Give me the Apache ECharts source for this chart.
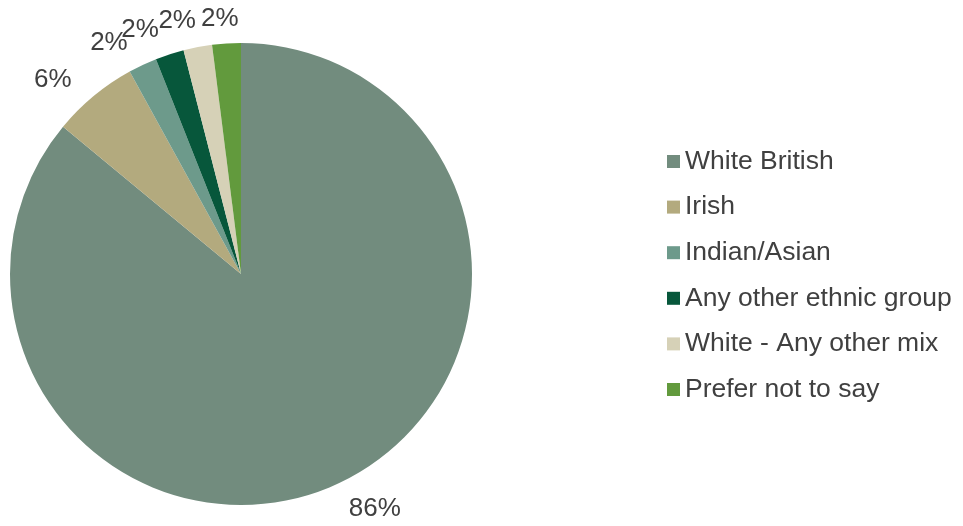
<!DOCTYPE html>
<html>
<head>
<meta charset="utf-8">
<script src="https://cdn.jsdelivr.net/npm/echarts@6/dist/echarts.min.js"></script>
<style>
  html, body { margin: 0; padding: 0; background: #fff; }
  #chart { width: 963px; height: 526px; }
</style>
</head>
<body>
<div id="chart"></div>
<script>
var categories = ['White British', 'Irish', 'Indian/Asian', 'Any other ethnic group', 'White - Any other mix', 'Prefer not to say'];
var values = [86, 6, 2, 2, 2, 2];
var colors = ['#728c7e', '#b3aa7e', '#6d9a8b', '#07573b', '#d6d1b7', '#629a3d'];

var cx = 241, cy = 274, R = 231;
var total = values.reduce(function(a, b) { return a + b; }, 0);

// mid angle of each slice, clockwise from 12 o'clock, nudged a bit like the office chart's labels
var mids = [];
var acc = 0;
for (var i = 0; i < values.length; i++) {
  var deg = 90 - 360 * (acc + values[i] / 2) / total;
  var c0 = Math.abs(Math.cos(deg * Math.PI / 180));
  mids.push((deg + 4.5 * Math.min(1, c0 * 4)) * Math.PI / 180);
  acc += values[i];
}

var font = 'Liberation Sans, Arial, sans-serif';
var myChart = echarts.init(document.getElementById('chart'));
var option = {
  animation: false,
  textStyle: { fontFamily: font },
  legend: {
    orient: 'vertical',
    left: 662,
    top: 143,
    itemWidth: 13,
    itemHeight: 13,
    itemGap: 18.6,
    icon: 'rect',
    textStyle: { fontSize: 26.5, color: '#404040', fontFamily: font },
    data: categories
  },
  series: [{
    type: 'pie',
    center: [cx, cy],
    radius: R,
    startAngle: 90,
    clockwise: true,
    avoidLabelOverlap: false,
    label: {
      show: true,
      position: 'outside',
      formatter: '{d}%',
      fontSize: 26,
      color: '#404040',
      fontFamily: font
    },
    labelLine: { show: false, length: 10, length2: 0 },
    labelLayout: function(p) {
      var a = mids[p.dataIndex];
      var w = p.labelRect.width, h = p.labelRect.height;
      var c = Math.cos(a), s = Math.sin(a);
      var d = R + 10 + Math.abs(c) * (w / 2 + 10) + Math.abs(s) * h / 2;
      return { x: cx + d * c, y: cy - d * s, align: 'center', verticalAlign: 'middle' };
    },
    itemStyle: { borderWidth: 0 },
    emphasis: { disabled: true },
    data: categories.map(function(n, i) {
      return { name: n, value: values[i], itemStyle: { color: colors[i] } };
    })
  }]
};
myChart.setOption(option);
</script>
</body>
</html>
